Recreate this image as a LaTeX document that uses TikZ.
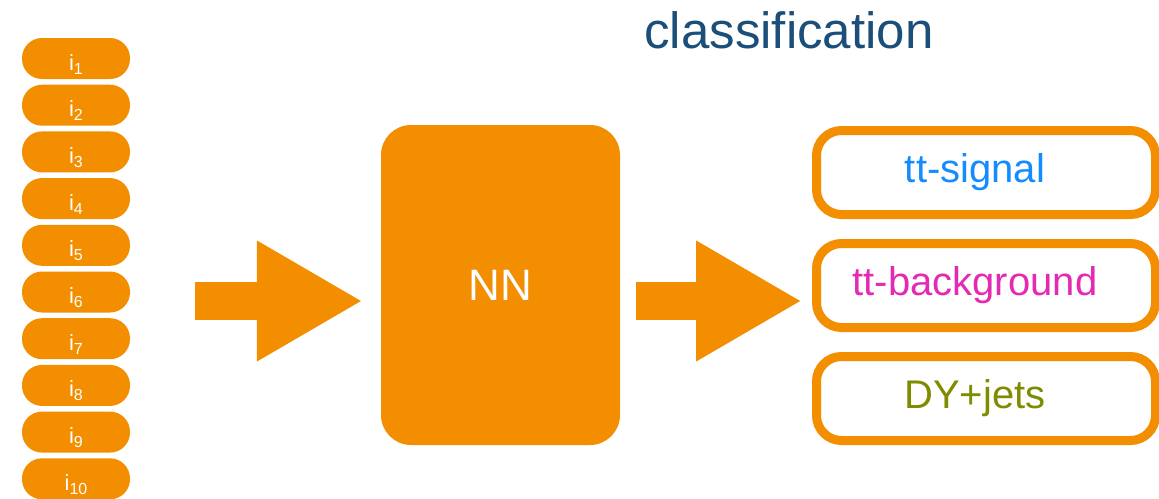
\documentclass[tikz,border=0pt]{standalone}
\usepackage{fontspec}
\setmainfont{Liberation Sans}
\usepackage{tikz}
\usetikzlibrary{arrows.meta,positioning,calc}
\definecolor{nnorange}{RGB}{242,142,0}
\definecolor{titleblue}{RGB}{27,79,122}
\definecolor{sigblue}{RGB}{20,140,255}
\definecolor{bkgmagenta}{RGB}{228,42,178}
\definecolor{dyolive}{RGB}{128,140,0}
\newcommand{\insub}[1]{\raisebox{-4pt}{\fontsize{16}{18}\selectfont #1}}
\tikzset{
    pill/.style={rectangle,fill=nnorange,text=white,rounded corners=20pt,
        minimum width=108pt,minimum height=41pt,inner sep=0pt,
        text height=23pt,text depth=0pt,font=\fontsize{22}{24}\selectfont},
    netbox/.style={rectangle,fill=nnorange,text=white,rounded corners=30pt,
        minimum width=239pt,minimum height=320pt,font=\fontsize{44}{50}\selectfont},
    classbox/.style={rectangle,draw=nnorange,fill=white,line width=9pt,rounded corners=25pt,
        minimum width=339pt,minimum height=84pt,font=\fontsize{40}{44}\selectfont},
    blockarrow/.style={nnorange,line width=38pt,-{Triangle[length=106pt,width=113pt]}}
}

\begin{document}
\begin{tikzpicture}[x=1pt,y=-1pt]
    \useasboundingbox (0,0) rectangle (1159,498);
    % inputs
    \foreach \k in {1,...,10}
        \node[pill] (i\k) at (76,{58.5+46.7*(\k-1)}) {i\insub{\k}};
    \node[netbox] (nn) at (500.5,285) {NN};
    % classes
    \node[classbox,text=sigblue] (sig) at (986,172.5) {tt-signal\hspace*{22pt}};
    \node[classbox,text=bkgmagenta] (bkg) at (986,285.5) {tt-background\hspace*{22pt}};
    \node[classbox,text=dyolive] (dy) at (986,398.5) {DY+jets\hspace*{22pt}};
    \node[anchor=base,text=titleblue,font=\fontsize{51}{56}\selectfont] (title) at (789,48) {classification};
    % arrows
    \coordinate (in1) at (195,301);
    \coordinate (in2) at (636,301);
    \draw[blockarrow] (in1) -- ([xshift=-18pt]nn.west |- in1);
    \draw[blockarrow] (in2) -- ([xshift=-10pt]bkg.west |- in2);
\end{tikzpicture}
\end{document}
